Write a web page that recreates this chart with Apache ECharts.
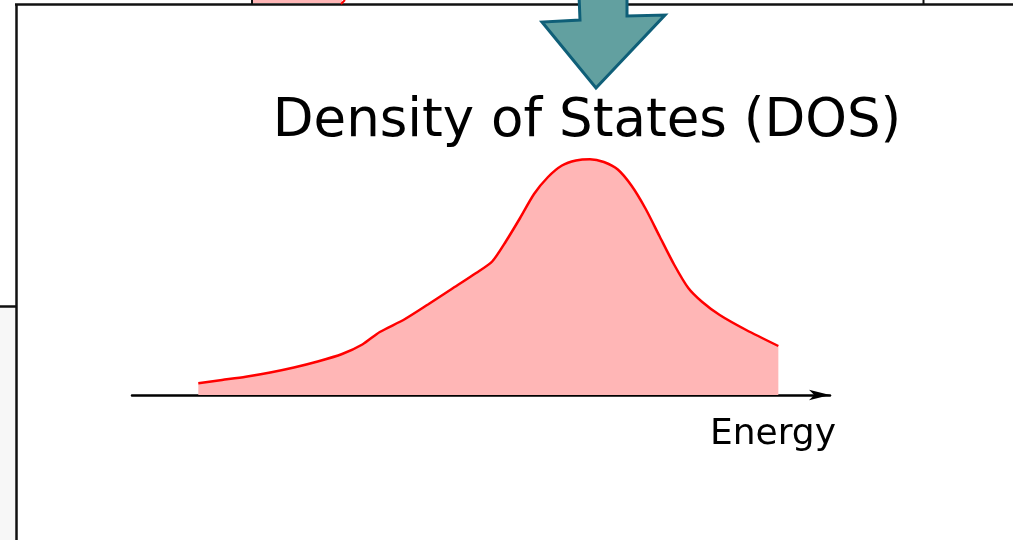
<!DOCTYPE html>
<html>
<head>
<meta charset="utf-8">
<script src="https://cdn.jsdelivr.net/npm/echarts@6/dist/echarts.min.js"></script>
<style>
  html, body { margin: 0; padding: 0; background: #fff; }
  #chart { width: 1013px; height: 540px; }
</style>
</head>
<body>
<div id="chart"></div>
<script>
// energy (arbitrary units) and density of states
var energy = [0.95, 1.29, 1.63, 1.98, 2.32, 2.66, 3.01, 3.30, 3.55, 3.90, 4.24, 4.58, 4.93, 5.16, 5.36, 5.56,
              5.76, 5.96, 6.16, 6.36, 6.56, 6.76, 6.96, 7.16, 7.36, 7.56, 7.77, 7.97, 8.17, 8.42, 8.80, 9.26];
var dos = [0.047, 0.060, 0.073, 0.090, 0.110, 0.134, 0.164, 0.202, 0.252, 0.302, 0.362, 0.424, 0.488, 0.534, 0.616, 0.708,
           0.804, 0.872, 0.918, 0.938, 0.943, 0.932, 0.902, 0.836, 0.744, 0.634, 0.520, 0.428, 0.372, 0.320, 0.260, 0.196];
var titleText = 'Density of States (DOS)';
var axisName = 'Energy';

var points = energy.map(function (e, i) { return [e, dos[i]]; });

var chart = echarts.init(document.getElementById('chart'), null, {renderer: 'canvas'});
var option = {
    animation: false,
    backgroundColor: '#ffffff',
    grid: {left: 132, right: 183, top: 145, bottom: 145},
    xAxis: {
        type: 'value',
        min: 0,
        max: 10,
        axisLine: {
            show: true,
            symbol: ['none', 'arrow'],
            symbolSize: [8, 21],
            lineStyle: {color: '#000', width: 2.5}
        },
        axisTick: {show: false},
        axisLabel: {show: false},
        splitLine: {show: false}
    },
    yAxis: {
        type: 'value',
        min: 0,
        max: 1,
        show: false
    },
    series: [{
        type: 'line',
        data: points,
        smooth: 0.25,
        symbol: 'none',
        z: 1,
        lineStyle: {color: '#ff0000', width: 2.5},
        areaStyle: {color: '#ffb6b6', opacity: 1, origin: 'start'}
    }],
    graphic: [
        // gray strip and frame lines around the panel
        {type: 'rect', shape: {x: 0, y: 307, width: 15, height: 233}, style: {fill: '#f7f7f7'}, z: 0},
        {type: 'line', shape: {x1: 0, y1: 306.5, x2: 16, y2: 306.5}, style: {stroke: '#111', lineWidth: 2.5}},
        {type: 'line', shape: {x1: 16.5, y1: 4, x2: 16.5, y2: 540}, style: {stroke: '#111', lineWidth: 2.5}},
        {type: 'line', shape: {x1: 15, y1: 4.5, x2: 1013, y2: 4.5}, style: {stroke: '#111', lineWidth: 2.5}},
        {type: 'line', shape: {x1: 923.5, y1: 0, x2: 923.5, y2: 4}, style: {stroke: '#111', lineWidth: 2}},
        // piece of the panel above
        {type: 'rect', shape: {x: 252, y: 0, width: 90, height: 3}, style: {fill: '#ffb6b6'}},
        {type: 'line', shape: {x1: 252, y1: 0, x2: 252, y2: 4}, style: {stroke: '#111', lineWidth: 2}},
        {type: 'line', shape: {x1: 345, y1: 0, x2: 341, y2: 4}, style: {stroke: '#ff0000', lineWidth: 2}},
        // big teal arrow
        {
            type: 'polygon',
            shape: {points: [[579, -5], [580, 20], [542, 22], [596, 88], [665, 15], [627, 16], [627, -5]]},
            style: {fill: '#62a0a0', stroke: '#0f5f78', lineWidth: 3, lineJoin: 'miter'},
            z: 10
        },
        {
            type: 'text',
            style: {
                text: titleText, x: 587, y: 122,
                textAlign: 'center', textVerticalAlign: 'middle',
                font: '53px "DejaVu Sans"', fill: '#000'
            },
            z: 10
        },
        {
            type: 'text',
            style: {
                text: axisName, x: 836, y: 435,
                textAlign: 'right', textVerticalAlign: 'middle',
                font: '36px "DejaVu Sans"', fill: '#000'
            },
            z: 10
        }
    ]
};
chart.setOption(option);
</script>
</body>
</html>
